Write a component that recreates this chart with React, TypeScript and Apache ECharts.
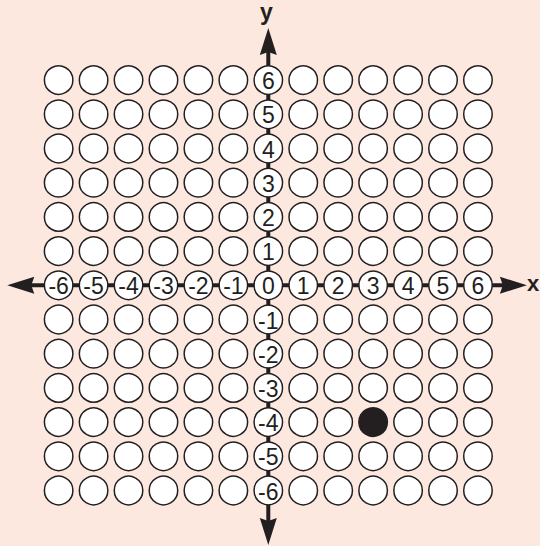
import React, { useEffect, useRef } from "react";
import * as echarts from "echarts";

// Grid of positions (category values along each axis)
const xValues = [-6, -5, -4, -3, -2, -1, 0, 1, 2, 3, 4, 5, 6];
const yValues = [6, 5, 4, 3, 2, 1, 0, -1, -2, -3, -4, -5, -6];
// The single marked (filled) point
const markedPoint = [3, -4];
// Axis arrows: [x1, y1, x2, y2] in data units
const axisSegments = [
  [-7.47, 0, 7.4, 0],
  [0, -7.59, 0, 7.52],
];
const axisNames = ["x", "y"];

const INK = "#231f20";
const BG = "#fce8de";
const FONT = "'Liberation Sans', Arial, Helvetica, sans-serif";

export default function App() {
  const ref = useRef<HTMLDivElement>(null);

  useEffect(() => {
    if (!ref.current) return;
    const chart = echarts.init(ref.current, null, { renderer: "svg" });

    const circles: any[] = [];
    yValues.forEach((y) => {
      xValues.forEach((x) => {
        const txt = y === 0 ? String(x) : x === 0 ? String(y) : "";
        const filled = x === markedPoint[0] && y === markedPoint[1];
        circles.push({
          value: [x, y],
          itemStyle: filled ? { color: INK, borderColor: INK } : undefined,
          label: txt ? { show: true, formatter: txt } : { show: false },
        });
      });
    });

    const renderAxis = (params: any, api: any) => {
      const p1 = api.coord([api.value(0), api.value(1)]);
      const p2 = api.coord([api.value(2), api.value(3)]);
      const dx = p2[0] - p1[0];
      const dy = p2[1] - p1[1];
      const len = Math.sqrt(dx * dx + dy * dy);
      const ux = dx / len;
      const uy = dy / len;
      const nx = -uy;
      const ny = ux;
      const L = 27;
      const W = 17;
      const notch = 3;
      const arrow = (tip: number[], sx: number, sy: number) => [
        [tip[0], tip[1]],
        [tip[0] - sx * L + nx * W / 2, tip[1] - sy * L + ny * W / 2],
        [tip[0] - sx * (L - notch), tip[1] - sy * (L - notch)],
        [tip[0] - sx * L - nx * W / 2, tip[1] - sy * L - ny * W / 2],
      ];
      return {
        type: "group",
        children: [
          {
            type: "line",
            shape: {
              x1: p1[0] + ux * (L - 4),
              y1: p1[1] + uy * (L - 4),
              x2: p2[0] - ux * (L - 4),
              y2: p2[1] - uy * (L - 4),
            },
            style: { stroke: INK, lineWidth: 4 },
          },
          {
            type: "polygon",
            shape: { points: arrow(p2, ux, uy) },
            style: { fill: INK },
          },
          {
            type: "polygon",
            shape: { points: arrow(p1, -ux, -uy) },
            style: { fill: INK },
          },
        ],
      };
    };

    chart.setOption({
      animation: false,
      backgroundColor: BG,
      grid: { left: 23.7, right: 27.1, top: 45.9, bottom: 21.3 },
      xAxis: { type: "value", min: -7, max: 7, show: false },
      yAxis: { type: "value", min: -7, max: 7, show: false },
      series: [
        {
          type: "custom",
          renderItem: renderAxis,
          data: axisSegments,
          clip: false,
          z: 1,
          silent: true,
        },
        {
          type: "scatter",
          data: circles,
          symbol: "circle",
          symbolSize: 28.5,
          z: 2,
          itemStyle: { color: "#ffffff", borderColor: INK, borderWidth: 1.5, opacity: 1 },
          label: {
            position: "inside",
            color: INK,
            fontSize: 23,
            fontFamily: FONT,
            offset: [0, 1],
          },
          emphasis: { disabled: true },
        },
      ],
      graphic: [
        {
          type: "text",
          left: 527,
          top: 272,
          style: { text: axisNames[0], fill: INK, font: `bold 22px ${FONT}` },
        },
        {
          type: "text",
          left: 260,
          top: 0,
          style: { text: axisNames[1], fill: INK, font: `bold 23px ${FONT}` },
        },
      ],
    });

    return () => chart.dispose();
  }, []);

  return (
    <div
      ref={ref}
      style={{ position: "fixed", left: 0, top: 0, width: 540, height: 546 }}
    />
  );
}
